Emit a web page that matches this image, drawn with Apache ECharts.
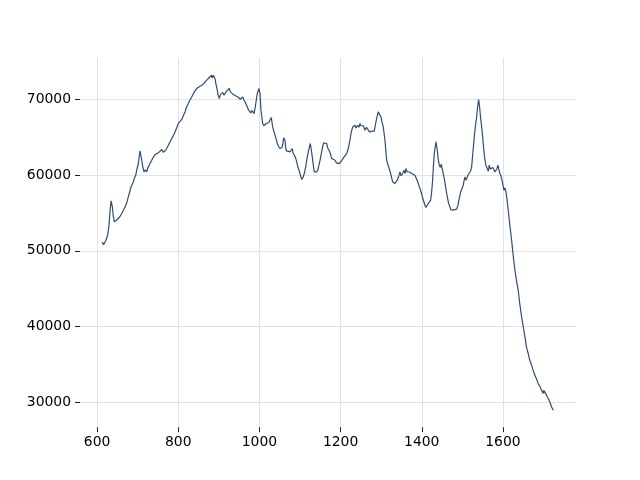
<!DOCTYPE html>
<html>
<head>
<meta charset="utf-8">
<script src="https://cdn.jsdelivr.net/npm/echarts@6/dist/echarts.min.js"></script>
<style>html,body{margin:0;padding:0;background:#fff}#c{width:640px;height:480px}</style>
</head>
<body>
<div id="c"></div>
<script>
const xValues = [613,616,618,622,626,629,632,634.5,637.7,640,642.6,646,649,652.5,656,660.8,664,669,673,677,680,683.7,686,689.4,692,695.3,698,701.7,704,705.9,708,710.1,713,715.8,719,722.4,725,728.1,731,734.7,738,742.9,746,751,755,759.4,763,769.2,772,775.6,780,784,788,792.1,796,800.2,805,810.1,813,816.7,820,824.9,829,833.2,836,839.6,842,845.6,850,853.7,858,861.8,866,870.2,873,876.6,879,881.5,884,886.4,888,890.6,893,896.3,898,901.2,904,907.1,910,912.8,916,919.5,922,925.8,928,931.8,934,937.4,940,944.1,947,950.5,953,956.4,959,962.1,965,967,970,972.7,975,978.6,982,986.7,989.9,992,994.8,999,1001.5,1003.9,1008.1,1011,1013.8,1017,1019.4,1023,1026.1,1029.3,1032.7,1035,1038.4,1041,1044.1,1047,1050.7,1055.7,1058,1059.8,1063,1065,1067.2,1071,1075.4,1078,1081,1083,1086,1089,1091.9,1094,1097.5,1101,1104.2,1108.1,1111,1114,1117,1120.4,1125.4,1128,1130.3,1133,1135.2,1138,1141.1,1144,1146.8,1150,1153.4,1156,1158.4,1162,1165.7,1168,1171.4,1175,1178.1,1182,1186.2,1190,1194.3,1197,1201,1204,1206.6,1210,1215,1219,1223.1,1226,1229.8,1232,1235.5,1238,1242.1,1245,1247.8,1250,1253.4,1256,1260.1,1264,1268.2,1271,1274.9,1278,1280.5,1283,1286.4,1289,1292.8,1296,1299.5,1302,1305.2,1309.3,1313.5,1316,1319.2,1323.4,1326,1328.3,1331,1334,1337,1339.6,1343,1346.3,1349,1351.2,1354,1356.1,1359,1361.1,1364,1366.7,1370,1375,1379,1383.2,1387,1391.4,1395,1399.7,1402,1405.4,1408,1410.3,1413,1416,1419,1421.9,1424,1426.8,1428.5,1430.8,1434.9,1438.2,1440,1443.1,1446,1448,1450,1452.9,1456,1458.8,1461,1463.8,1466,1469.4,1472,1476.1,1479,1482.5,1486,1489.1,1492,1495.8,1499,1502.2,1504,1506.4,1509,1512,1514,1517,1520,1522.9,1526,1528.6,1532,1535.3,1538,1540.1,1542.5,1545.1,1547.5,1550,1553,1555.7,1558,1561.3,1564,1566.2,1569,1572.2,1575,1577.8,1580,1582.7,1585,1587.7,1590,1592.6,1595,1597.5,1600,1602.4,1605,1607.4,1610,1613,1617,1621.4,1625,1629.5,1633,1637.6,1641,1646,1650,1654.2,1658,1662.2,1666,1670.6,1674,1678.7,1682,1686.9,1691,1695.2,1699,1700.5,1703.3,1707,1711.5,1716,1719.9,1723.9];
const yValues = [51180,50800,50970,51400,52060,53160,55200,56590,55790,54600,53820,53600,54100,54260,54500,54920,55100,55790,56300,57110,57700,58430,58700,59090,59600,59980,60700,61520,62500,63180,62600,61950,61000,60410,60700,60410,60900,61070,61600,61950,62300,62710,62500,62920,63100,63370,63000,63270,63500,63930,64400,64820,65200,65690,66200,66800,67100,67450,67900,68330,68900,69430,69900,70300,70600,70960,71100,71410,71500,71720,71800,71980,72200,72510,72400,72860,73100,73170,72800,73170,73300,72730,72000,71190,70600,70090,70600,70530,70900,70530,70800,71100,71300,71410,71000,71190,70700,70960,70500,70750,70300,70530,70000,70090,70300,69870,69600,69430,69000,68640,68400,68190,68500,68110,68980,69800,70750,71410,70750,68550,66800,66500,66440,66800,66700,66900,67010,67590,66350,65900,65250,64800,64160,63800,63500,63630,64200,64900,64590,63500,63180,63300,63050,63300,63500,62900,62610,62300,61730,61200,60640,60000,59410,59750,60300,61070,62100,63050,64160,63300,62390,61200,60410,60200,60410,60700,61300,62100,63050,63800,64240,64000,64160,63600,63270,62800,62180,62000,61950,61600,61860,61500,61600,62000,62050,62500,62840,63500,64590,65600,66350,66100,66570,66200,66570,66300,66800,66500,66270,66500,65910,66300,66140,65700,65480,65800,65560,65800,66800,67500,68330,68000,67670,67000,66350,64590,61950,61500,61300,60200,59600,59090,58900,58880,59100,59320,59800,60410,59900,59980,60300,60640,60200,60860,60400,60200,60400,60200,60300,59980,59500,58880,58300,57560,57000,56450,56000,55720,55900,56240,56500,56680,57600,59320,61000,62840,64370,63270,62300,61300,61000,61430,60900,60200,59400,58430,57700,56900,56300,55790,55400,55140,55400,55140,55500,56020,56800,57770,58200,58660,59200,59750,59300,59540,60000,59980,60500,61070,63000,64590,66400,67670,69200,69960,69000,67450,66400,65030,63200,61950,61300,60860,60500,61300,60800,60640,61000,60730,60400,60200,60800,61300,60700,60200,59900,59320,58700,58000,58300,57770,56800,55360,53400,51400,49500,47450,46200,44810,43200,41290,40000,38650,37300,36460,35600,34920,34300,33600,33200,32500,32100,31620,31200,31600,31390,31000,30520,30000,29410,28980];
const xTicks = [600, 800, 1000, 1200, 1400, 1600];
const yTicks = [30000, 40000, 50000, 60000, 70000];

const pts = xValues.map((x, i) => [x, yValues[i]]);
const chart = echarts.init(document.getElementById('c'), null, {renderer: 'canvas'});
const labelStyle = {color: '#000', fontSize: 13.9, fontFamily: 'DejaVu Sans', formatter: v => String(v)};
chart.setOption({
  animation: false,
  backgroundColor: '#fff',
  grid: {left: 80, right: 64, top: 57.6, bottom: 52.8, containLabel: false},
  xAxis: {
    type: 'value', min: 558, max: 1780,
    axisLine: {show: false},
    axisTick: {show: true, customValues: xTicks, length: 5, lineStyle: {color: '#222', width: 1}},
    axisLabel: Object.assign({customValues: xTicks, margin: 8}, labelStyle),
    splitLine: {show: true, lineStyle: {color: '#e1e1e1', width: 1}}
  },
  yAxis: {
    type: 'value', min: 26740, max: 75490,
    axisLine: {show: false},
    axisTick: {show: true, customValues: yTicks, length: 5, lineStyle: {color: '#222', width: 1}},
    axisLabel: Object.assign({customValues: yTicks, margin: 9}, labelStyle),
    splitLine: {show: true, lineStyle: {color: '#e1e1e1', width: 1}}
  },
  series: [{
    type: 'line', data: pts, showSymbol: false, symbol: 'none',
    lineStyle: {color: '#2f4d74', width: 1.2}, itemStyle: {color: '#2f4d74'}
  }]
});
</script>
</body>
</html>
